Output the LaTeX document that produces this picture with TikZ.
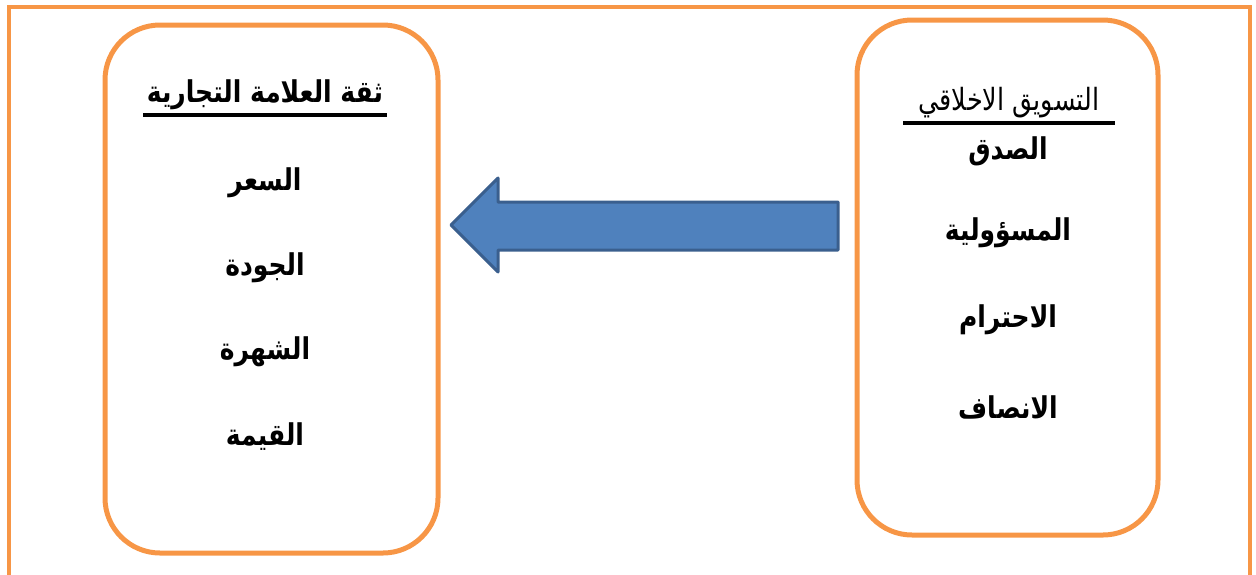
\documentclass[tikz,border=0pt]{standalone}
\usepackage{fontspec}
\TeXXeTstate=1
\newfontfamily\arabicfont[Script=Arabic]{DejaVu Sans}
\definecolor{frameorange}{HTML}{F79646}
\definecolor{arrowfill}{HTML}{4F81BD}
\definecolor{arrowline}{HTML}{3A5F8E}
\tikzset{
  frame/.style={draw=frameorange, line width=4pt},
  panel/.style={draw=frameorange, line width=5pt, rounded corners=55pt},
  blockarrow/.style={draw=arrowline, fill=arrowfill, line width=3pt, line join=round},
  item/.style={inner sep=0pt, yscale=1.2, transform shape, font=\arabicfont\bfseries\fontsize{25}{30}\selectfont},
  heading/.style={inner sep=0pt, yscale=1.2, transform shape, font=\arabicfont\bfseries\fontsize{25}{30}\selectfont},
  headingl/.style={inner sep=0pt, yscale=1.2, transform shape, font=\arabicfont\fontsize{25.5}{30}\selectfont},
  uline/.style={draw=black, line width=3.5pt}
}
\begin{document}
\begin{tikzpicture}[x=1pt,y=-1pt]
\useasboundingbox (0,0) rectangle (1256,574);
\begin{scope}
\clip (0,0) rectangle (1256,574);
\draw[frame] (8.5,7) rectangle (1250,590);
\end{scope}
% panels
\draw[panel] (105,25) rectangle (438,553);
\draw[panel] (857,20) rectangle (1158,535);
% arrow
\draw[blockarrow] (451,225) -- (498,178) -- (498,202) -- (838,202) -- (838,250) -- (498,250) -- (498,272) -- cycle;
% left texts
\node[heading] (lt) at (265,95) {\beginR ثقة العلامة التجارية\endR};
\draw[uline] (143,115) -- (387,115);
\node[item] (l1) at (265,183) {\beginR السعر\endR};
\node[item] (l2) at (265,268) {\beginR الجودة\endR};
\node[item] (l3) at (265,352) {\beginR الشهرة\endR};
\node[item] (l4) at (265,437) {\beginR القيمة\endR};
% right texts
\node[headingl] (rt) at (1009,103) {\beginR التسويق الاخلاقي\endR};
\draw[uline] (903,123) -- (1115,123);
\node[item] (r1) at (1008,151) {\beginR الصدق\endR};
\node[item] (r2) at (1008,233) {\beginR المسؤولية\endR};
\node[item] (r3) at (1008,320) {\beginR الاحترام\endR};
\node[item] (r4) at (1008,407) {\beginR الانصاف\endR};
\end{tikzpicture}
\end{document}
